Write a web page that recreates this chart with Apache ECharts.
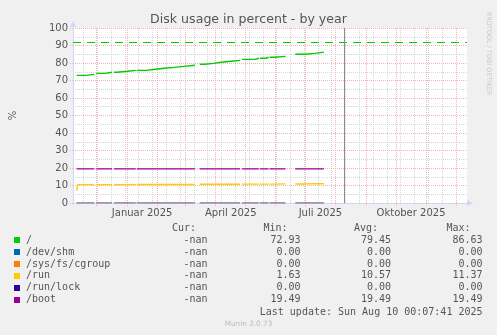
<!DOCTYPE html>
<html><head><meta charset="utf-8">
<script src="https://cdn.jsdelivr.net/npm/echarts@6/dist/echarts.min.js"></script>
<style>html,body{margin:0;padding:0;background:#f0f0f0}#c{width:497px;height:335px}</style>
</head><body><div id="c"></div>
<script>
const chartTitle = 'Disk usage in percent - by year';
const seriesNames = ['/', '/dev/shm', '/sys/fs/cgroup', '/run', '/run/lock', '/boot'];
const seriesColors = ['#00CC00', '#0066B3', '#FF8000', '#FFCC00', '#330099', '#990099'];
const curValues = ['-nan', '-nan', '-nan', '-nan', '-nan', '-nan'];
const minValues = ['72.93', '0.00', '0.00', '1.63', '0.00', '19.49'];
const avgValues = ['79.45', '0.00', '0.00', '10.57', '0.00', '19.49'];
const maxValues = ['86.63', '0.00', '0.00', '11.37', '0.00', '19.49'];
const lastUpdate = 'Last update: Sun Aug 10 00:07:41 2025';
const versionText = 'Munin 2.0.73';
const sideText = 'RRDTOOL / TOBI OETIKER';

const timeRange = ['2024-11-07T08:00:00Z', '2025-12-12T08:00:00Z'];
const nowTime = '2025-08-10T00:07:41Z';
const warningLevel = 92;

const monthStarts = ['2024-12-01','2025-01-01','2025-02-01','2025-03-01','2025-04-01','2025-05-01','2025-06-01','2025-07-01','2025-08-01','2025-09-01','2025-10-01','2025-11-01','2025-12-01'];
const weekLines = ['2024-11-18','2024-12-02','2024-12-16','2024-12-30','2025-01-13','2025-01-27','2025-02-10','2025-02-24','2025-03-10','2025-03-24','2025-04-07','2025-04-21','2025-05-05','2025-05-19','2025-06-02','2025-06-16','2025-06-30','2025-07-14','2025-07-28','2025-08-11','2025-08-25','2025-09-08','2025-09-22','2025-10-06','2025-10-20','2025-11-03','2025-11-17','2025-12-01'];
const monthLabelDates = ['2025-01-16T12:00:00Z', '2025-04-16T12:00:00Z', '2025-07-16T12:00:00Z', '2025-10-16T12:00:00Z'];
const monthLabels = ['Januar 2025', 'April 2025', 'Juli 2025', 'Oktober 2025'];

// interval boundaries of the sampled data (value i holds from breaks[i] to breaks[i+1])
const breaks = ['2024-11-11','2024-11-12','2024-11-20','2024-11-29','2024-12-01','2024-12-10','2024-12-17','2024-12-19','2024-12-22','2025-01-02','2025-01-10','2025-01-11','2025-01-21','2025-01-30','2025-02-08','2025-02-18','2025-02-28','2025-03-11','2025-03-16','2025-03-21','2025-03-30','2025-04-07','2025-04-17','2025-04-26','2025-04-28','2025-05-11','2025-05-15','2025-05-16','2025-05-22','2025-05-25','2025-05-26','2025-05-31','2025-06-11','2025-06-21','2025-07-01','2025-07-11','2025-07-20'];
const rootValues = [72.93,72.93,73.5,null,74.1,74.7,null,74.7,75.3,75.8,null,75.8,76.4,77.0,77.5,78.1,78.7,null,79.3,79.8,80.4,81.0,81.5,null,82.1,82.7,null,82.7,83.3,null,83.3,83.8,null,85.0,85.5,86.2];
const shmValues = [0,0,0,null,0,0,null,0,0,0,null,0,0,0,0,0,0,null,0,0,0,0,0,null,0,0,null,0,0,null,0,0,null,0,0,0];
const cgroupValues = [0,0,0,null,0,0,null,0,0,0,null,0,0,0,0,0,0,null,0,0,0,0,0,null,0,0,null,0,0,null,0,0,null,0,0,0];
const runValues = [7.0,10.5,10.5,null,10.5,10.5,null,10.5,10.5,10.5,null,10.6,10.6,10.6,10.6,10.6,10.6,null,10.7,10.7,10.7,10.7,10.7,null,10.8,10.8,null,10.8,10.8,null,10.8,10.9,null,10.9,11.0,11.0];
const runLockValues = [0,0,0,null,0,0,null,0,0,0,null,0,0,0,0,0,0,null,0,0,0,0,0,null,0,0,null,0,0,null,0,0,null,0,0,0];
const bootValues = [19.49,19.49,19.49,null,19.49,19.49,null,19.49,19.49,19.49,null,19.49,19.49,19.49,19.49,19.49,19.49,null,19.49,19.49,19.49,19.49,19.49,null,19.49,19.49,null,19.49,19.49,null,19.49,19.49,null,19.49,19.49,19.49];
const allValues = [rootValues, shmValues, cgroupValues, runValues, runLockValues, bootValues];

function ts(s) { return Date.parse(s.length === 10 ? s + 'T00:00:00Z' : s); }
function toSteps(values) {
  const out = [];
  values.forEach((v, i) => {
    if (v === null) { out.push([ts(breaks[i]) + 3600000, null]); return; }
    out.push([ts(breaks[i]), v], [ts(breaks[i + 1]), v]);
  });
  return out;
}

const majorColor = '#f0b4b4';
const minorColor = '#d6d6d6';
const fontCol = '#555555';
const xMin = ts(timeRange[0]), xMax = ts(timeRange[1]);
const labelTs = monthLabelDates.map(ts);

const series = seriesNames.map((name, i) => {
  const onAxis = allValues[i].every(v => v === null || v === 0);
  return {
    name, type: 'line', data: toSteps(allValues[i]), showSymbol: false, symbol: 'none',
    clip: true, connectNulls: false,
    lineStyle: { color: seriesColors[i], width: onAxis ? 1 : 1.4, opacity: onAxis ? 0.5 : 1 },
    itemStyle: { color: seriesColors[i] },
    z: 3 + i,
  };
});
series[0].markLine = {
  silent: true, symbol: ['none', 'none'], label: { show: false }, animation: false,
  data: [
    { yAxis: warningLevel, lineStyle: { color: '#00CC00', type: [8, 6], width: 1.2 } },
    { xAxis: ts(nowTime), lineStyle: { color: '#8c8c8c', type: 'solid', width: 1 } }
  ]
};

const graphics = [];
const mono = '10px "DejaVu Sans Mono"';
const headerY = 228.5;
[['Cur:', 172], ['Min:', 263.5], ['Avg:', 354], ['Max:', 446.5]].forEach(([t, x]) => {
  graphics.push({ type: 'text', x, y: headerY, style: { text: t, font: mono, fill: fontCol, textAlign: 'left', textVerticalAlign: 'middle' } });
});
seriesNames.forEach((name, i) => {
  const y = 240.2 + i * 11.9;
  graphics.push({ type: 'rect', shape: { x: 14, y: Math.round(y) - 3, width: 6, height: 6 }, style: { fill: seriesColors[i] } });
  graphics.push({ type: 'text', x: 26, y, style: { text: name, font: mono, fill: fontCol, textAlign: 'left', textVerticalAlign: 'middle' } });
  [[curValues, 207.5], [minValues, 300.5], [avgValues, 391], [maxValues, 482.5]].forEach(([arr, x]) => {
    graphics.push({ type: 'text', x, y, style: { text: arr[i], font: mono, fill: fontCol, textAlign: 'right', textVerticalAlign: 'middle' } });
  });
});
graphics.push({ type: 'text', x: 482.5, y: 312.3, style: { text: lastUpdate, font: mono, fill: fontCol, textAlign: 'right', textVerticalAlign: 'middle' } });
graphics.push({ type: 'text', x: 248.5, y: 324.5, style: { text: versionText, font: '7.3px "DejaVu Sans"', fill: '#bbbbbb', textAlign: 'center', textVerticalAlign: 'middle' } });
graphics.push({ type: 'text', x: 488.5, y: 53.5, rotation: -Math.PI / 2, style: { text: sideText, font: '6.5px "DejaVu Sans"', fill: '#c8c8c8', textAlign: 'center', textVerticalAlign: 'middle' } });

const chart = echarts.init(document.getElementById('c'), null, { renderer: 'canvas' });
chart.setOption({
  animation: false,
  backgroundColor: '#f0f0f0',
  textStyle: { fontFamily: 'DejaVu Sans' },
  title: { text: chartTitle, left: 'center', top: 13, padding: 0,
    textStyle: { fontFamily: 'DejaVu Sans', fontSize: 12.6, fontWeight: 'normal', color: fontCol } },
  grid: { left: 67, top: 28, width: 400, height: 175, show: true, backgroundColor: '#ffffff', borderWidth: 0 },
  xAxis: [
    { type: 'value', min: xMin, max: xMax, z: 2,
      axisLine: { show: true, lineStyle: { color: '#CFD6F8', width: 1 }, symbol: ['none', 'triangle'], symbolSize: [6, 6], symbolOffset: [0, 3] },
      axisTick: { show: true, customValues: monthStarts.map(ts), length: 3, lineStyle: { color: majorColor, type: [1, 1] } },
      axisLabel: { customValues: labelTs, color: fontCol, fontSize: 10, fontFamily: 'DejaVu Sans', margin: 5,
        formatter: (v) => { const k = labelTs.indexOf(v); return k >= 0 ? monthLabels[k] : ''; } },
      splitLine: { show: true, lineStyle: { color: majorColor, type: [1, 1], width: 1 } } },
    { type: 'value', min: xMin, max: xMax, position: 'bottom', z: 1,
      axisLine: { show: false }, axisLabel: { show: false },
      axisTick: { show: false, customValues: weekLines.map(ts) },
      splitLine: { show: true, lineStyle: { color: minorColor, type: [1, 1], width: 1 } } }
  ],
  yAxis: { type: 'value', min: 0, max: 100, interval: 10, z: 2,
    name: '%', nameLocation: 'middle', nameGap: 55, nameRotate: 90,
    nameTextStyle: { color: fontCol, fontSize: 10, fontFamily: 'DejaVu Sans' },
    axisLine: { show: true, lineStyle: { color: '#CFD6F8', width: 1 }, symbol: ['none', 'triangle'], symbolSize: [6, 6], symbolOffset: [0, 4] },
    axisTick: { show: true, length: 3, lineStyle: { color: majorColor, type: [1, 1] } },
    axisLabel: { color: fontCol, fontSize: 10, fontFamily: 'DejaVu Sans', margin: 5 },
    splitLine: { show: true, lineStyle: { color: majorColor, type: [1, 1] } },
    minorTick: { show: false, splitNumber: 2 },
    minorSplitLine: { show: true, lineStyle: { color: minorColor, type: [1, 1] } } },
  series,
  graphic: graphics
});
</script></body></html>
